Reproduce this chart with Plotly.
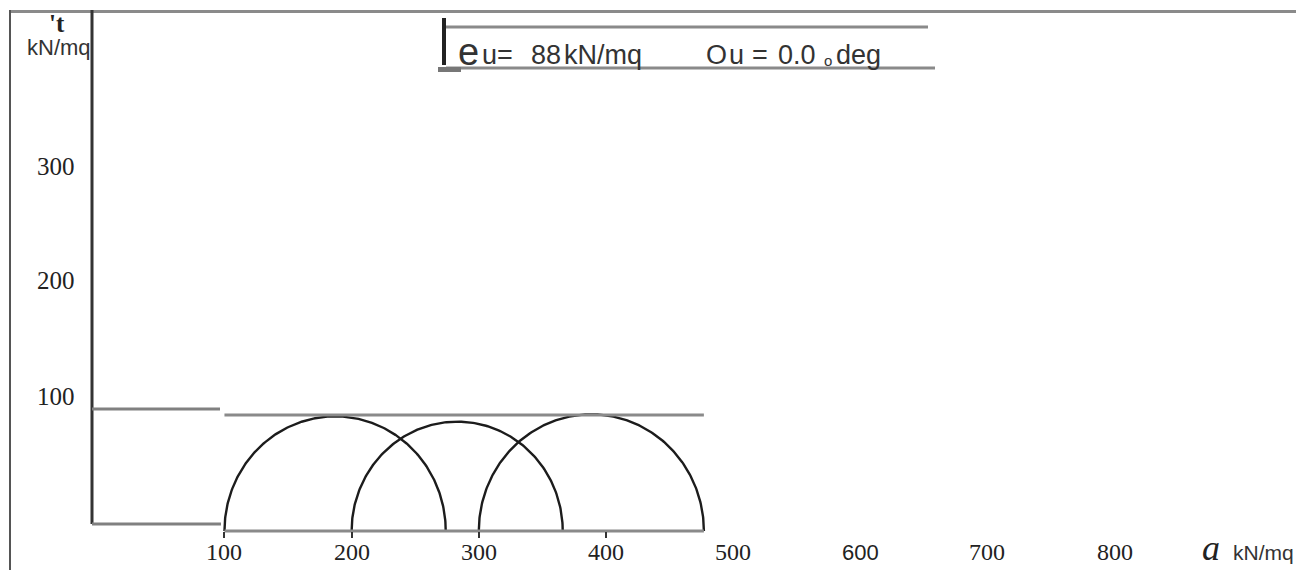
import numpy as np
import plotly.graph_objects as go

# ---- data ----
sigma3 = [100, 200, 300]          # minor principal stress of each test (kN/mq)
sigma1 = [274, 366, 477]          # major principal stress of each test (kN/mq)
cu = 88                           # undrained cohesion (kN/mq)
phi_u = 0.0                       # undrained friction angle (deg)
x_tick_vals = [100, 200, 300, 400]
x_labels = ["100", "200", "300", "400", "500", "600", "700", "800"]
x_label_vals = [100, 200, 300, 400, 500, 600, 700, 800]
y_labels = ["100", "200", "300"]

W, H = 1296, 570


def px(x):
    return x / W


def py(y):
    return 1 - y / H


fig = go.Figure()

# Mohr semicircles
for s3, s1 in zip(sigma3, sigma1):
    c = (s1 + s3) / 2
    r = (s1 - s3) / 2
    t = np.linspace(np.pi, 0, 200)
    fig.add_trace(go.Scatter(x=c + r * np.cos(t), y=r * np.sin(t), mode="lines",
                             line=dict(color="#1c1c1c", width=2.4),
                             hoverinfo="skip", showlegend=False))

# envelope (tau = cu, phi = 0) and sigma axis segment
s_min, s_max = min(sigma3), max(sigma1)
fig.add_trace(go.Scatter(x=[s_min, s_max], y=[cu, cu], mode="lines",
                         line=dict(color="#8a8a8a", width=3.2),
                         hoverinfo="skip", showlegend=False))
fig.add_trace(go.Scatter(x=[s_min, s_max], y=[0, 0], mode="lines",
                         line=dict(color="#8a8a8a", width=3.2),
                         hoverinfo="skip", showlegend=False))

shapes = []
def pline(x0, y0, x1, y1, color, width):
    shapes.append(dict(type="line", xref="paper", yref="paper",
                       x0=px(x0), y0=py(y0), x1=px(x1), y1=py(y1),
                       line=dict(color=color, width=width)))

# frame / decorative lines
pline(10, 11.5, W, 11.5, "#8a8a8a", 3)     # top border
pline(10, 10, 10, H, "#555555", 2)         # left border
pline(92, 10, 92, 524, "#333333", 3)       # tau axis
pline(92, 409, 220, 409, "#808080", 3)
pline(92, 524, 221, 524, "#808080", 3)
# header box
pline(443, 27, 928, 27, "#8a8a8a", 3)
pline(444, 18, 444, 65, "#222222", 4)
pline(446, 68, 935, 68, "#8a8a8a", 3)
shapes.append(dict(type="rect", xref="paper", yref="paper",
                   x0=px(438), x1=px(461), y0=py(72), y1=py(67),
                   fillcolor="#777777", line=dict(width=0)))

ann = []
def ptext(x, y, text, size, family="Liberation Sans", color="#333333",
          xanchor="center", **kw):
    ann.append(dict(xref="paper", yref="paper", x=px(x), y=py(y), text=text,
                    showarrow=False, xanchor=xanchor, yanchor="middle",
                    font=dict(size=size, family=family, color=color), **kw))

# y tick labels (serif)
for lab, yp in zip(y_labels, [397, 280, 166]):
    ptext(56, yp, lab, 25, family="Liberation Serif", color="#222222")

# x tick labels
for v, lab in zip(x_label_vals, x_labels):
    fam = "Liberation Sans" if lab == "600" else "Liberation Serif"
    size = 22 if lab == "600" else 24
    ann.append(dict(xref="x", yref="paper", x=v, y=py(552), text=lab,
                    showarrow=False, xanchor="center", yanchor="middle",
                    font=dict(size=size, family=fam, color="#222222")))

# axis titles
ptext(57, 23, "<b>'t</b>", 25, family="Liberation Serif", color="#222222")
ptext(59, 47, "kN/mq", 22)
ptext(1211, 548, "<i>a</i>", 36, family="Liberation Serif", color="#222222")
ptext(1231, 552, "kN/mq", 21, xanchor="left")

# header text
ptext(456, 52, "e", 38, xanchor="left")
ptext(480, 55, "u=", 27, xanchor="left")
ptext(529, 55, f"{cu:d}", 27, xanchor="left")
ptext(562, 55, "kN/mq", 27, xanchor="left")
ptext(704, 55, "O", 27, xanchor="left")
ptext(727, 55, "u", 27, xanchor="left")
ptext(750, 55, "=", 27, xanchor="left")
ptext(776, 55, f"{phi_u:.1f}", 27, xanchor="left")
ptext(822, 60, "o", 15, xanchor="left")
ptext(834, 55, "deg", 27, xanchor="left")

fig.update_layout(
    width=W, height=H,
    margin=dict(l=0, r=0, t=0, b=0),
    paper_bgcolor="white", plot_bgcolor="white",
    shapes=shapes, annotations=ann,
    xaxis=dict(range=[-76.5, 942.6], showgrid=False, zeroline=False,
               showline=False, tickvals=x_tick_vals, ticks="outside",
               ticklen=6, tickwidth=2, tickcolor="#333333",
               showticklabels=False, anchor="free",
               position=(H - 531) / H, fixedrange=True),
    yaxis=dict(range=[-39 / 1.318, 531 / 1.318], showgrid=False,
               zeroline=False, showline=False, showticklabels=False,
               ticks="", fixedrange=True),
)

fig.write_html("out.html")
